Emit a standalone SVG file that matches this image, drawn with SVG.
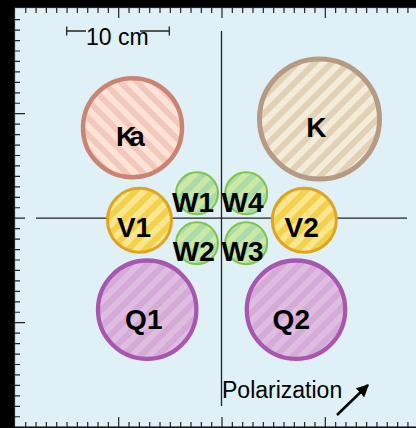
<svg xmlns="http://www.w3.org/2000/svg" width="416" height="428" viewBox="0 0 416 428">
<style>
.tk{stroke:#222;stroke-width:1.2;fill:none}
.ax{stroke:#222;stroke-width:1.3;fill:none}
.lb{font-family:"Liberation Sans",Arial,sans-serif;font-weight:bold;font-size:28px;fill:#000;text-anchor:middle}
.tx{font-family:"Liberation Sans",Arial,sans-serif;font-size:23px;fill:#000}
</style>
<defs>
<pattern id="pKa" patternUnits="userSpaceOnUse" width="12" height="12" patternTransform="rotate(-45)"><rect width="12" height="12" fill="#fbe4d6"/><rect width="6" height="12" fill="#f3c8bc"/></pattern>
<pattern id="pK" patternUnits="userSpaceOnUse" width="12" height="12" patternTransform="rotate(45)"><rect width="12" height="12" fill="#f4ecdb"/><rect width="6" height="12" fill="#e2d1b6"/></pattern>
<pattern id="pV" patternUnits="userSpaceOnUse" width="12" height="12" patternTransform="rotate(45)"><rect width="12" height="12" fill="#fae690"/><rect width="6" height="12" fill="#f2d24c"/></pattern>
<pattern id="pW" patternUnits="userSpaceOnUse" width="12" height="12" patternTransform="rotate(45)"><rect width="12" height="12" fill="#cde8a4"/><rect width="6" height="12" fill="#a8dca8"/></pattern>
<pattern id="pQ" patternUnits="userSpaceOnUse" width="12" height="12" patternTransform="rotate(45)"><rect width="12" height="12" fill="#dfbde0"/><rect width="6" height="12" fill="#d4aad6"/></pattern>
<marker id="ah" viewBox="0 0 10 10" refX="9" refY="5" markerWidth="5" markerHeight="5" orient="auto"><path d="M0,0 L10,5 L0,10 z" fill="#000"/></marker>
</defs>
<rect width="416" height="428" fill="#000"/>
<rect x="14.5" y="7.5" width="410" height="419.5" fill="#dff0f7" stroke="#222" stroke-width="1.2"/>
<g id="ticks" class="tk">
<path d="M25.73,8v5M36.06,8v5M46.39,8v5M56.72,8v5M67.05,8v5M77.38,8v5M87.71,8v5M98.04,8v5M108.37,8v5M118.7,8v10M129.03,8v5M139.36,8v5M149.69,8v5M160.02,8v5M170.35,8v5M180.68,8v5M191.01,8v5M201.34,8v5M211.67,8v5M222,8v10M232.33,8v5M242.66,8v5M252.99,8v5M263.32,8v5M273.65,8v5M283.98,8v5M294.31,8v5M304.64,8v5M314.97,8v5M325.3,8v10M335.63,8v5M345.96,8v5M356.29,8v5M366.62,8v5M376.95,8v5M387.28,8v5M397.61,8v5M407.94,8v5"/>
<path d="M25.73,427v-5M36.06,427v-5M46.39,427v-5M56.72,427v-5M67.05,427v-5M77.38,427v-5M87.71,427v-5M98.04,427v-5M108.37,427v-5M118.7,427v-10M129.03,427v-5M139.36,427v-5M149.69,427v-5M160.02,427v-5M170.35,427v-5M180.68,427v-5M191.01,427v-5M201.34,427v-5M211.67,427v-5M222,427v-10M232.33,427v-5M242.66,427v-5M252.99,427v-5M263.32,427v-5M273.65,427v-5M283.98,427v-5M294.31,427v-5M304.64,427v-5M314.97,427v-5M325.3,427v-10M335.63,427v-5M345.96,427v-5M356.29,427v-5M366.62,427v-5M376.95,427v-5M387.28,427v-5M397.61,427v-5M407.94,427v-5"/>
<path d="M15,19.65h5M15,30.1h5M15,40.55h5M15,51h5M15,61.45h5M15,71.9h5M15,82.35h5M15,92.8h5M15,103.25h5M15,113.7h10M15,124.15h5M15,134.6h5M15,145.05h5M15,155.5h5M15,165.95h5M15,176.4h5M15,186.85h5M15,197.3h5M15,207.75h5M15,218.2h10M15,228.65h5M15,239.1h5M15,249.55h5M15,260h5M15,270.45h5M15,280.9h5M15,291.35h5M15,301.8h5M15,312.25h5M15,322.7h10M15,333.15h5M15,343.6h5M15,354.05h5M15,364.5h5M15,374.95h5M15,385.4h5M15,395.85h5M15,406.3h5M15,416.75h5"/>
</g>
<g id="axes" class="ax">
<path d="M36,218.2H407"/>
<path d="M221.5,31V406"/>
</g>
<g id="scalebar">
<path class="ax" d="M66.7,26.5v9M66.7,31H86M140,31H169.3M169.3,26.5v9"/>
<text class="tx" x="86" y="45" font-size="22">10 cm</text>
</g>
<g id="Ka"><circle cx="132.5" cy="127.7" r="49.5" fill="url(#pKa)" stroke="#c98474" stroke-width="4.5"/><text class="lb" x="127" y="145.5" font-size="27" letter-spacing="-7">Ka</text></g>
<g id="K"><circle cx="319.5" cy="119" r="60" fill="url(#pK)" stroke="#b59a84" stroke-width="5"/><text class="lb" x="316.3" y="136.5">K</text></g>
<g id="V1"><circle cx="139.5" cy="220.3" r="32" fill="url(#pV)" stroke="#e0a424" stroke-width="3"/><text class="lb" x="134" y="237">V1</text></g>
<g id="V2"><circle cx="304.3" cy="220.3" r="32" fill="url(#pV)" stroke="#e0a424" stroke-width="3"/><text class="lb" x="301.7" y="237">V2</text></g>
<g id="W1"><circle cx="197" cy="193.3" r="21" fill="url(#pW)" stroke="#82c44a" stroke-width="2"/><text class="lb" x="193" y="212">W1</text></g>
<g id="W4"><circle cx="246.2" cy="193.3" r="21" fill="url(#pW)" stroke="#82c44a" stroke-width="2"/><text class="lb" x="242.5" y="212">W4</text></g>
<g id="W2"><circle cx="197" cy="243.2" r="21" fill="url(#pW)" stroke="#82c44a" stroke-width="2"/><text class="lb" x="193.8" y="261">W2</text></g>
<g id="W3"><circle cx="246.2" cy="243.2" r="21" fill="url(#pW)" stroke="#82c44a" stroke-width="2"/><text class="lb" x="242.5" y="261">W3</text></g>
<g id="Q1"><circle cx="147.2" cy="309.7" r="49.2" fill="url(#pQ)" stroke="#a757b0" stroke-width="4.3"/><text class="lb" x="143.8" y="328.5">Q1</text></g>
<g id="Q2"><circle cx="296" cy="309.7" r="49.2" fill="url(#pQ)" stroke="#a757b0" stroke-width="4.3"/><text class="lb" x="291.3" y="328.5">Q2</text></g>
<g id="polarization">
<text class="tx" x="222" y="398.3">Polarization</text>
<path d="M337,415 L368,385" stroke="#000" stroke-width="2.5" fill="none" marker-end="url(#ah)"/>
</g>
</svg>
